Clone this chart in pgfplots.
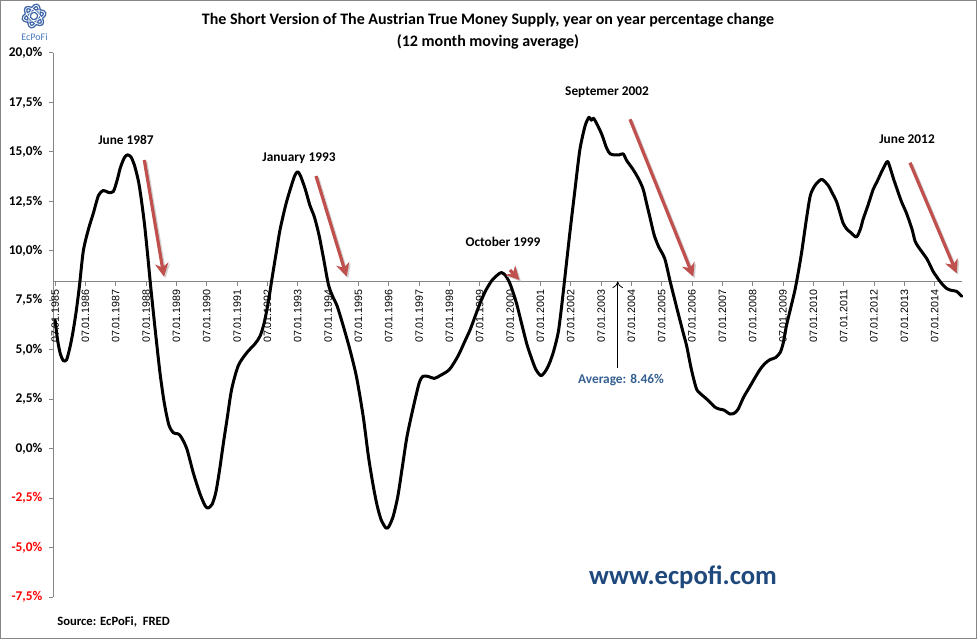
\documentclass[border=0pt]{standalone}
\usepackage{fontspec}
\setmainfont{Carlito}
\newfontfamily\lsans{Liberation Sans}
\usepackage{pgfplots}
\pgfplotsset{compat=1.18}
\usetikzlibrary{arrows.meta}
\definecolor{arrowred}{RGB}{192,80,77}
\definecolor{axgray}{RGB}{134,134,134}
\definecolor{avgblue}{RGB}{54,96,146}
\definecolor{wwwblue}{RGB}{31,73,125}
\definecolor{logoblue}{RGB}{60,100,170}
\definecolor{logolight}{RGB}{70,120,190}
\begin{document}
\begin{tikzpicture}
\begin{scope}[x=0.75pt,y=0.75pt]
\useasboundingbox (0,0) rectangle (977,639);
\fill[white] (0,0) rectangle (977,639);
\draw[axgray, line width=0.75pt] (0.5,0.5) rectangle (976.5,638.5);
\end{scope}
\begin{axis}[
  at={(39.75pt,31.5pt)}, anchor=south west,
  scale only axis, width=681.75pt, height=408pt,
  xmin=1984.93, xmax=2014.9, ymin=-7.5, ymax=20,
  axis x line=none, axis y line=left,
  y axis line style={-, draw=axgray, line width=0.75pt},
  ytick={-7.5,-5,-2.5,0,2.5,5,7.5,10,12.5,15,17.5,20},
  tick align=outside, major tick length=3pt,
  ytick style={draw=axgray, line width=0.75pt},
  yticklabel style={font=\bfseries\fontsize{10}{12}\selectfont, xshift=-1.5pt},
  yticklabel={\pgfmathparse{\tick<0}\ifdim\pgfmathresult pt>0.5pt\color{red}\fi\pgfmathprintnumber[fixed,fixed zerofill,precision=1,use comma,assume math mode=true]{\tick}\%},
  clip=false,
]
% x axis at the average (8.46)
\draw[axgray, line width=0.75pt] (axis cs:1984.93,8.46) -- (axis cs:2014.9,8.46);
\pgfplotsinvokeforeach{1985,...,2014}{
  \draw[axgray, line width=0.75pt] (axis cs:#1,8.46) -- ([yshift=-3.75pt]axis cs:#1,8.46)
    node[anchor=east, rotate=90, inner sep=2pt, text=black, font=\lsans\fontsize{8}{9}\selectfont] {07.01.#1};
}
\addplot[black, line width=2.25pt, smooth, tension=0.45, line join=round, line cap=round] coordinates {
(1985.00,6.5) (1985.08,5.5) (1985.17,4.8) (1985.27,4.45) (1985.38,4.5) (1985.50,5.2)
(1985.60,6.0) (1985.70,7.0) (1985.80,8.2) (1985.93,10.0) (1986.10,11.1) (1986.26,11.9)
(1986.43,12.8) (1986.59,13.05) (1986.76,12.95) (1986.92,13.0) (1987.05,13.6) (1987.15,14.2)
(1987.28,14.7) (1987.38,14.85) (1987.50,14.75) (1987.62,14.3) (1987.75,13.5) (1987.85,12.5)
(1987.95,11.3) (1988.05,9.8) (1988.15,8.2) (1988.30,6.0) (1988.46,3.8) (1988.60,2.3)
(1988.75,1.2) (1988.90,0.8) (1989.05,0.75) (1989.15,0.6) (1989.34,0.0) (1989.56,-1.25)
(1989.78,-2.3) (1989.95,-2.9) (1990.05,-3.0) (1990.18,-2.8) (1990.30,-2.2) (1990.42,-1.1)
(1990.55,0.3) (1990.66,1.4) (1990.82,3.0) (1991.04,4.2) (1991.32,4.85) (1991.59,5.3)
(1991.76,5.7) (1991.90,6.4) (1992.05,7.6) (1992.14,8.5) (1992.31,10.1) (1992.42,11.1)
(1992.60,12.3) (1992.75,13.1) (1992.90,13.8) (1993.00,14.0) (1993.10,13.75) (1993.25,13.1)
(1993.40,12.3) (1993.55,11.7) (1993.70,10.8) (1993.84,9.7) (1994.01,8.3) (1994.15,7.7)
(1994.30,7.2) (1994.50,6.2) (1994.72,5.0) (1994.94,3.6) (1995.16,1.6) (1995.33,-0.4)
(1995.49,-1.9) (1995.62,-2.9) (1995.75,-3.6) (1995.90,-4.0) (1996.00,-3.95) (1996.15,-3.4)
(1996.30,-2.4) (1996.45,-0.9) (1996.60,0.6) (1996.81,2.1) (1997.00,3.3) (1997.12,3.65)
(1997.30,3.65) (1997.50,3.55) (1997.70,3.7) (1998.00,4.0) (1998.29,4.7) (1998.50,5.4)
(1998.68,6.0) (1998.85,6.7) (1999.01,7.35) (1999.20,8.0) (1999.40,8.5) (1999.60,8.8)
(1999.72,8.9) (1999.85,8.75) (1999.98,8.4) (2000.10,7.9) (2000.22,7.3) (2000.40,6.2)
(2000.55,5.3) (2000.70,4.6) (2000.85,4.0) (2001.00,3.7) (2001.08,3.75) (2001.20,4.0)
(2001.32,4.4) (2001.45,5.0) (2001.59,5.9) (2001.70,7.2) (2001.81,8.7) (2001.97,10.9)
(2002.14,13.1) (2002.30,15.1) (2002.47,16.3) (2002.60,16.75) (2002.68,16.6) (2002.75,16.7)
(2002.85,16.45) (2003.02,15.9) (2003.18,15.2) (2003.30,14.9) (2003.45,14.85) (2003.60,14.85)
(2003.73,14.9) (2003.85,14.55) (2004.06,14.1) (2004.25,13.6) (2004.39,13.1) (2004.50,12.4)
(2004.61,11.7) (2004.75,10.8) (2004.90,10.2) (2005.10,9.6) (2005.27,8.5) (2005.40,7.7)
(2005.54,6.85) (2005.70,5.9) (2005.82,5.2) (2005.95,4.2) (2006.04,3.6) (2006.15,3.0)
(2006.26,2.8) (2006.45,2.55) (2006.59,2.35) (2006.75,2.1) (2006.90,2.0) (2007.05,1.95)
(2007.25,1.75) (2007.40,1.8) (2007.52,2.0) (2007.70,2.6) (2007.91,3.15) (2008.08,3.6)
(2008.24,4.0) (2008.40,4.3) (2008.57,4.5) (2008.75,4.6) (2008.90,4.85) (2009.00,5.3)
(2009.11,6.2) (2009.25,7.1) (2009.39,8.0) (2009.50,8.9) (2009.61,9.9) (2009.77,11.6)
(2009.90,12.8) (2010.05,13.3) (2010.20,13.55) (2010.30,13.6) (2010.49,13.3) (2010.63,12.9)
(2010.76,12.5) (2010.88,11.9) (2010.98,11.4) (2011.10,11.1) (2011.25,10.9) (2011.42,10.7)
(2011.55,11.1) (2011.64,11.6) (2011.80,12.3) (2011.97,13.1) (2012.10,13.5) (2012.25,14.0)
(2012.40,14.45) (2012.46,14.5) (2012.55,14.1) (2012.65,13.6) (2012.74,13.2) (2012.90,12.5)
(2013.07,11.9) (2013.25,11.1) (2013.35,10.5) (2013.46,10.2) (2013.60,9.9) (2013.74,9.6)
(2013.84,9.3) (2013.95,8.95) (2014.06,8.7) (2014.20,8.4) (2014.39,8.1) (2014.55,8.0)
(2014.72,7.95) (2014.89,7.7)
};
\end{axis}
\begin{scope}[x=0.75pt,y=0.75pt]
% titles
\node[font=\bfseries\fontsize{12}{14}\selectfont] at (488,619) {The Short Version of The Austrian True Money Supply, year on year percentage change};
\node[font=\bfseries\fontsize{12}{14}\selectfont] at (488,597) {(12 month moving average)};
% logo
\begin{scope}[shift={(34,623)}]
\foreach \a in {0,60,120}{
  \draw[logoblue, line width=2.6pt, rotate=\a+15] (0,0) ellipse (11 and 4.5);
}
\foreach \a in {0,60,120}{
  \draw[white, line width=0.6pt, rotate=\a+15] (0,0) ellipse (11 and 4.5);
}
\end{scope}
\node[logolight, font=\fontsize{7.5}{8}\selectfont] at (34.5,602) {EcPoFi};
% annotations
\tikzset{redarrow/.style={arrowred, line width=2.4pt, -{Stealth[length=10pt,width=10pt,inset=3pt]}}}
\tikzset{shadowarrow/.style={black!18, line width=2.4pt, -{Stealth[length=10pt,width=10pt,inset=3pt]}}}
\foreach \sx/\sy/\ex/\ey in {144.3/479/164/362.3, 316/463/346.7/362.3, 510/369/519.5/359, 630/519.7/693.3/362.3, 910/476.3/956.7/365.7}{
  \draw[shadowarrow] (\sx+1.5,\sy-1.5) -- (\ex+1.5,\ey-1.5);
  \draw[redarrow] (\sx,\sy) -- (\ex,\ey);
}
\tikzset{lab/.style={font=\bfseries\fontsize{10}{12}\selectfont}}
\node[lab] at (126,499) {June 1987};
\node[lab] at (299,481) {January 1993};
\node[lab] at (503,397) {October 1999};
\node[lab] at (607,547) {Septemer 2002};
\node[lab] at (907,500) {June 2012};
% average
\draw[black, line width=0.6pt, -{To[length=5pt,width=8pt]}] (617.7,271) -- (617.7,357.5);
\node[avgblue, font=\bfseries\fontsize{10}{12}\selectfont] at (621,259) {Average: 8.46\%};
\node[wwwblue, font=\bfseries\fontsize{20}{24}\selectfont] at (683,62) {www.ecpofi.com};
\node[anchor=west, inner sep=0pt, font=\bfseries\fontsize{9.5}{11}\selectfont] at (57,17) {Source: EcPoFi,\ \ FRED};
\end{scope}
\end{tikzpicture}
\end{document}
